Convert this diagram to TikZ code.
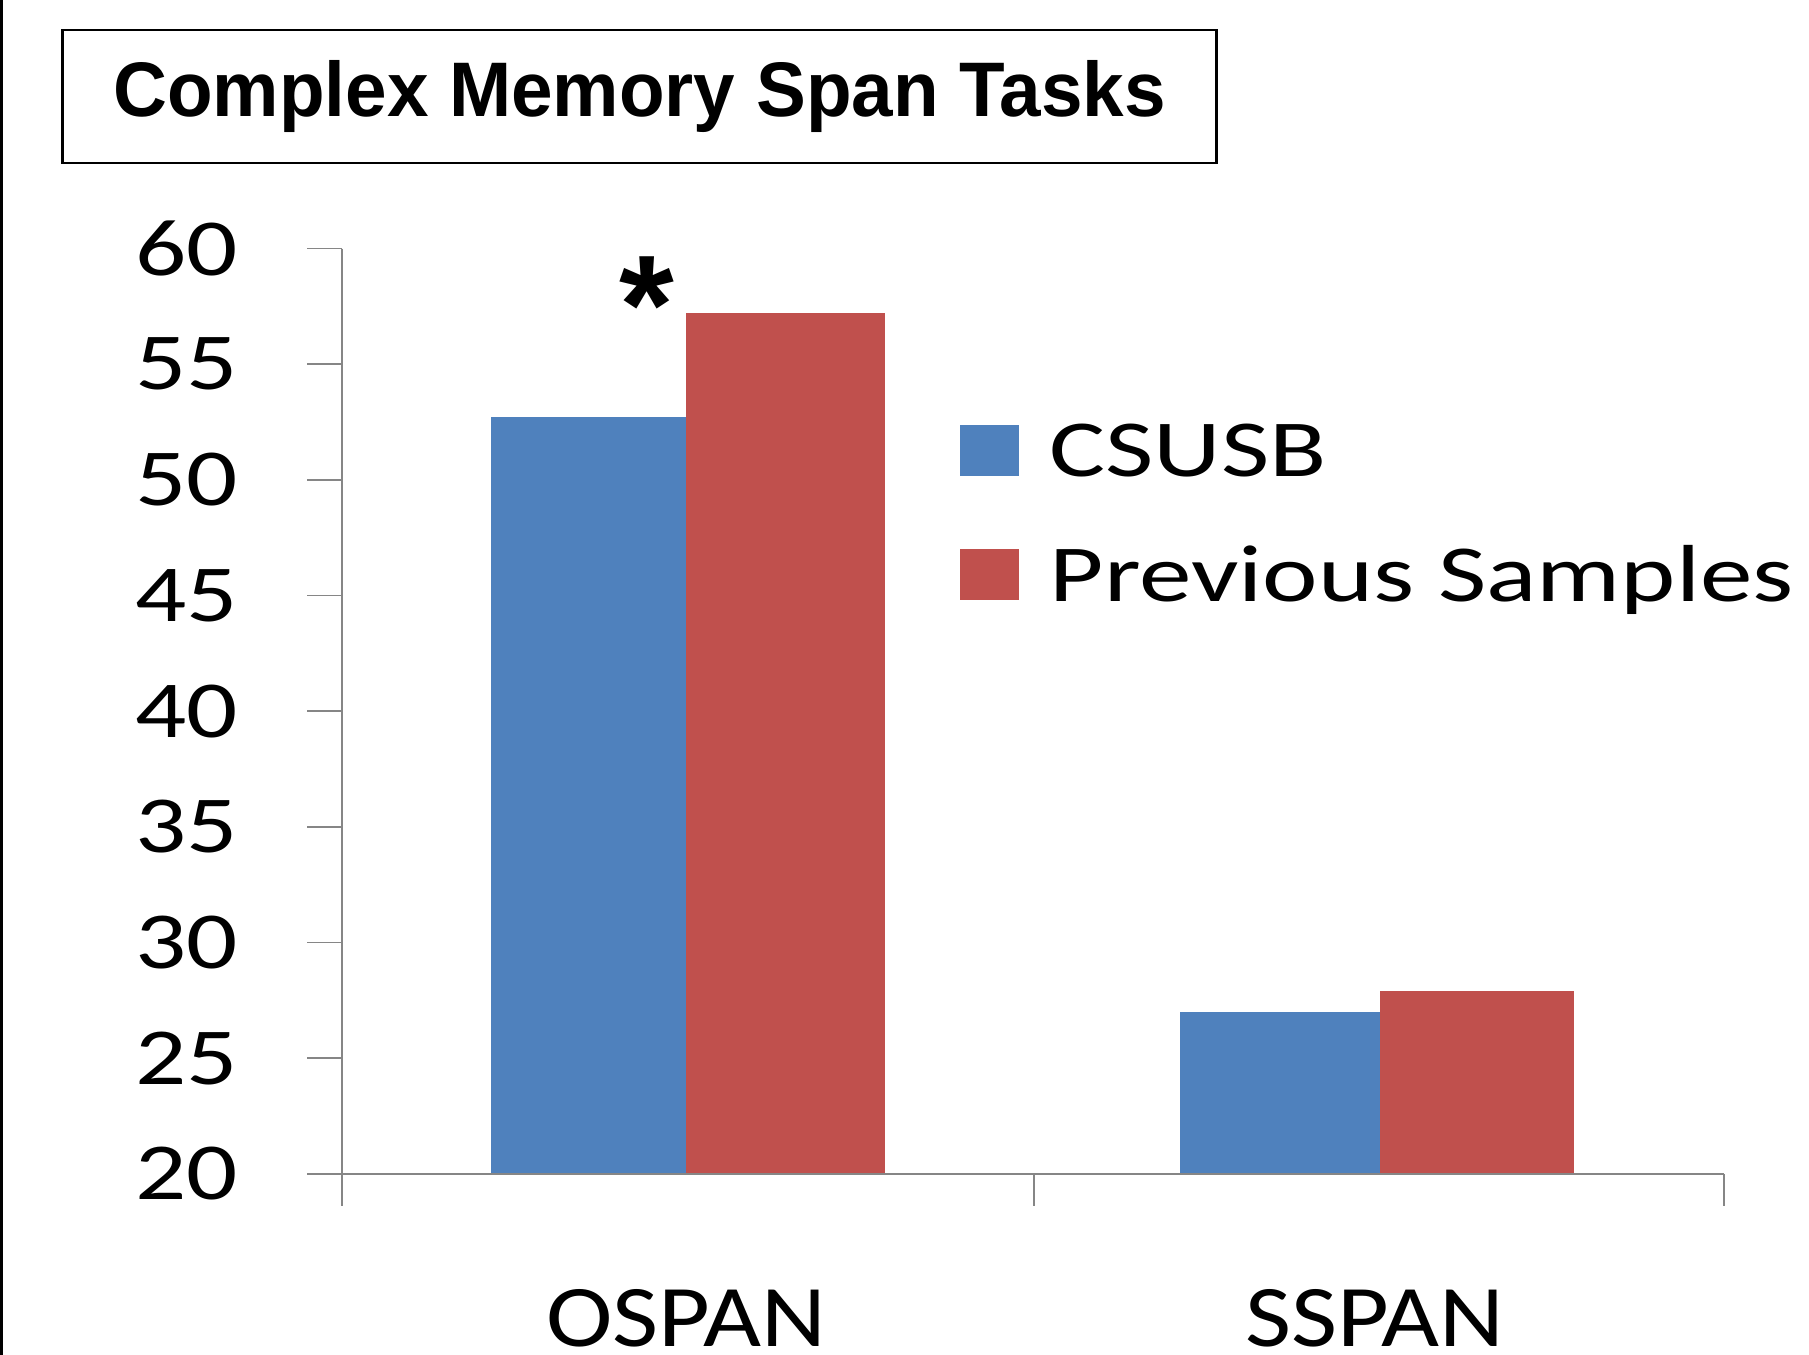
\documentclass[tikz,border=0pt]{standalone}
\usepackage{fontspec}
\setmainfont{Carlito}
\newfontfamily\headfont{Liberation Sans}
\usepackage{xcolor}
\usetikzlibrary{positioning}
\definecolor{BarBlue}{RGB}{79,129,189}
\definecolor{BarRed}{RGB}{192,80,77}
\definecolor{AxisGrey}{RGB}{134,134,134}

\begin{document}
\begin{tikzpicture}[x=0.01cm, y=0.01cm,
    axisline/.style={draw=AxisGrey, line width=0.45pt},
    ticklabel/.style={anchor=east, inner sep=0pt, xscale=1.25, font=\fontsize{23}{23}\selectfont},
    legkey/.style={rectangle, inner sep=0pt, minimum width=0.59cm, minimum height=0.51cm},
    legtext/.style={inner sep=0pt, text height=14.8pt, text depth=0pt, xscale=1.3, font=\fontsize{23}{23}\selectfont},
    catlabel/.style={anchor=north, inner sep=0pt, xscale=1.14, font=\fontsize{25}{25}\selectfont}]
    \useasboundingbox (0,0) rectangle (1809,1355);
    \draw[line width=0.8pt] (1.5,0) -- (1.5,1355);

    % Title
    \node[draw, line width=0.8pt, minimum width=11.53cm, minimum height=1.33cm, inner sep=0pt] (title) at (639.5,1258.5) {};
    \node[xscale=0.965, inner sep=0pt, font=\headfont\bfseries\fontsize{22}{22}\selectfont] (titletext) at (title.center) {Complex Memory Span Tasks};

    % Value axis and bars, one unit = one point of score
    \begin{scope}[yshift=1.81cm, y=0.2312cm]
        \draw[axisline] (342,40) -- (342,0);
        \foreach \v in {20,25,...,60} {
            \draw[axisline] (307,{\v-20}) -- (342,{\v-20});
            \node[ticklabel] (tick\v) at (239,{\v-20}) {\v};
        }
        % OSPAN
        \fill[BarBlue] (491,0) rectangle (686,32.7);
        \fill[BarRed] (686,0) rectangle (885,37.2);
        % SSPAN
        \fill[BarBlue] (1180,0) rectangle (1380,7.0);
        \fill[BarRed] (1380,0) rectangle (1574,7.9);
        \draw[axisline] (307,0) -- (1724,0);
    \end{scope}
    \draw[axisline] (342,181) -- (342,149);
    \draw[axisline] (1034,181) -- (1034,149);
    \draw[axisline] (1724,181) -- (1724,149);

    % Significance mark
    \node[anchor=base, inner sep=0pt, font=\headfont\bfseries\fontsize{40}{40}\selectfont] (signif) at (647,1001) {*};

    % Legend
    \node[legkey, fill=BarBlue] (keyA) at (989.5,904.5) {};
    \node[legtext, anchor=west, right=0.29cm of keyA] (legA) {CSUSB};
    \node[legkey, fill=BarRed] (keyB) at (989.5,780) {};
    \node[legtext, anchor=west, right=0.29cm of keyB] (legB) {Previous Samples};

    % Category labels
    \node[catlabel] (ospan) at (686,66) {OSPAN};
    \node[catlabel] (sspan) at (1375,66) {SSPAN};
\end{tikzpicture}
\end{document}
